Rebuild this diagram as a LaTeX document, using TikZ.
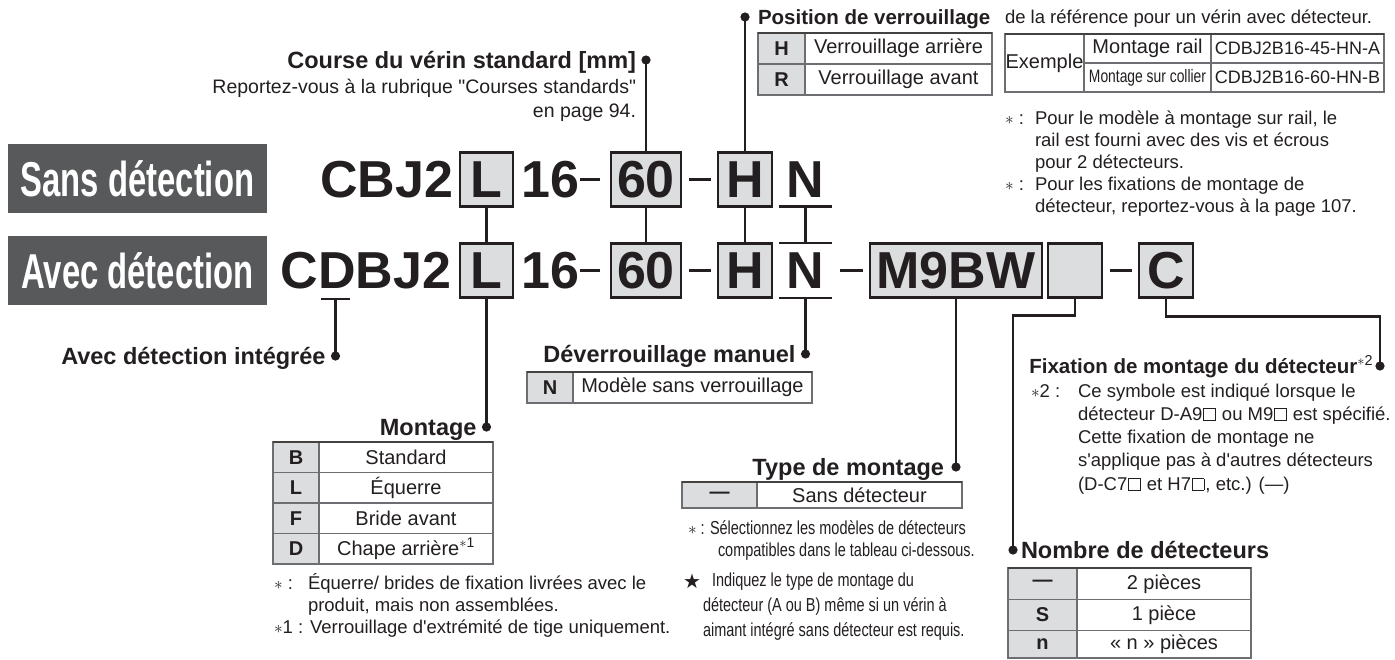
\documentclass[tikz,border=0pt]{standalone}
\usepackage{fontspec}
\setmainfont{Liberation Sans}[Ligatures=TeXOff]
\newfontfamily\condf[FakeStretch=0.67]{Liberation Sans}
\newfontfamily\narrowf[FakeStretch=0.77]{Liberation Sans}
\newfontfamily\symf{DejaVu Sans}
\usetikzlibrary{calc}
\definecolor{labgray}{HTML}{58595B}
\definecolor{cellgray}{HTML}{DCDDDE}
\definecolor{ink}{HTML}{231F20}
\definecolor{rulegray}{HTML}{6D6E71}
\newcommand\fCode{\fontsize{52}{52}\selectfont\bfseries}
\newcommand\fHead{\fontsize{23.5}{28}\selectfont\bfseries}
\newcommand\fHeadS{\fontsize{20.5}{24}\selectfont\bfseries}
\newcommand\fNote{\fontsize{18.5}{22}\selectfont}
\newcommand\fNar{\narrowf\fontsize{18.8}{22}\selectfont}
\newcommand\fTab{\fontsize{20}{22}\selectfont}
\newcommand\fTabS{\fontsize{18}{22}\selectfont}
\newcommand\fTabN{\narrowf\fontsize{18}{22}\selectfont}
\newcommand\asx{\ensuremath{\ast}}
\newcommand\wsq{\kern1pt{\fboxsep=0pt\fboxrule=0.7pt\fbox{\rule{0pt}{11pt}\rule{11pt}{0pt}}}\kern1pt}
\begin{document}
\begin{tikzpicture}[x=1pt,y=-1pt,
  lab/.style={fill=labgray, minimum width=259pt, minimum height=69pt, inner sep=0, outer sep=0, text=white, font=\condf\bfseries\fontsize{49}{49}\selectfont},
  cbox/.style={draw=ink, line width=2.4pt, fill=cellgray, minimum height=54pt, inner sep=0, outer sep=0, font=\fCode, text=ink},
  ctext/.style={inner sep=0, outer sep=0, font=\fCode, text=ink},
  conn/.style={draw=ink, line width=2.2pt},
  dashmark/.style={draw=ink, line width=3pt},
  head/.style={inner sep=0, outer sep=0, font=\fHead, text=ink},
  note/.style={inner sep=0, outer sep=0, font=\fNote, text=ink, anchor=base west},
  narnote/.style={inner sep=0, outer sep=0, font=\fNar, text=ink, anchor=base west},
  tk/.style={draw=rulegray, line width=1.3pt, fill=cellgray, inner sep=0, outer sep=0, anchor=north west, font=\fTab\bfseries, text=ink},
  tv/.style={draw=rulegray, line width=1.3pt, inner sep=0, outer sep=0, anchor=north west, font=\fTab, text=ink},
  toprule/.style={draw=ink!85, line width=2pt}
]
\useasboundingbox (0,0) rectangle (1395,659);
\fill[white] (0,0) rectangle (1395,659);

% label boxes
\node[lab] (sans) at (137.5,178.5) {Sans détection};
\node[lab] (avec) at (137.5,270.5) {Avec détection};

% ---------- row 1
\node[ctext, anchor=east] (c1) at (453,179.5) {CBJ2};
\node[cbox, minimum width=53pt] (l1) at (486.5,179.5) {L};
\node[ctext] (s1) at (550.5,179.5) {16};
\draw[dashmark] (580,179.5) -- (600,179.5);
\node[cbox, minimum width=70pt] (k1) at (646,179.5) {60};
\draw[dashmark] (689,179.5) -- (711,179.5);
\node[cbox, minimum width=54pt] (h1) at (745,179.5) {H};
\node[ctext, minimum width=53pt, minimum height=54pt] (n1) at (805.5,179.5) {N};
\draw[conn] (n1.south west) -- (n1.south east);

% ---------- row 2
\node[ctext, anchor=east] (c2) at (451,270.5) {CDBJ2};
\coordinate (dl) at (321,299);
\coordinate (dr) at (350,299);
\coordinate (dm) at (335.5,299);
\draw[conn] (dl) -- (dr);
\node[cbox, minimum width=53pt] (l2) at (486.5,270.5) {L};
\node[ctext] (s2) at (550.5,270.5) {16};
\draw[dashmark] (580,270.5) -- (600,270.5);
\node[cbox, minimum width=70pt] (k2) at (646,270.5) {60};
\draw[dashmark] (689,270.5) -- (711,270.5);
\node[cbox, minimum width=54pt] (h2) at (745,270.5) {H};
\node[ctext, minimum width=53pt, minimum height=55pt] (n2) at (805.5,270.5) {N};
\draw[conn] (n2.north west) -- (n2.north east);
\draw[conn] (n2.south west) -- (n2.south east);
\draw[dashmark] (840,270.5) -- (863,270.5);
\node[cbox, minimum width=172pt] (m2) at (956,270.5) {M9BW};
\node[cbox, minimum width=54pt] (e2) at (1075,270.5) {};
\draw[dashmark] (1110,270.5) -- (1132,270.5);
\node[cbox, minimum width=54pt] (cc2) at (1166,270.5) {C};

% ---------- dots
\coordinate (dCourse) at (646,60);
\coordinate (dPos) at (745,17);
\coordinate (dAvec) at (335.5,356);
\coordinate (dMont) at (486.5,427);
\coordinate (dDev) at (805.5,354);
\coordinate (dType) at (956,467);
\coordinate (dNomb) at (1013,550);
\coordinate (dFix) at (1380,366);

% ---------- connectors
\draw[conn] (k1.north) -- (dCourse);
\draw[conn] (h1.north) -- (dPos);
\draw[conn] (l1.south) -- (l2.north);
\draw[conn] (k1.south) -- (k2.north);
\draw[conn] (h1.south) -- (h2.north);
\draw[conn] (n1.south) -- (n2.north);
\draw[conn] (dm) -- (dAvec);
\draw[conn] (l2.south) -- (dMont);
\draw[conn] (n2.south) -- (dDev);
\draw[conn] (m2.south) -- (dType);
\draw[conn] (e2.south) -- ++(0,18) -| (dNomb);
\draw[conn] (cc2.south) -- ++(0,19) -| (dFix);
\foreach \d in {dCourse,dPos,dAvec,dMont,dDev,dType,dNomb,dFix}
  \fill[ink] (\d) circle (4.6pt);

% ---------- headings
\node[head, anchor=base east] (hCourse) at ($(dCourse)+(-10,8.5)$) {Course du vérin standard [mm]};
\node[note, anchor=base east, font=\fontsize{19.5}{22}\selectfont] (nCourse1) at (636,93) {Reportez-vous à la rubrique "Courses standards"};
\node[note, anchor=base east, font=\fontsize{19.5}{22}\selectfont] (nCourse2) at (636,117) {en page 94.};
\node[head, anchor=base west, font=\fHeadS] (hPos) at ($(dPos)+(13,7.5)$) {Position de verrouillage};
\node[head, anchor=base east] (hAvec) at ($(dAvec)+(-10,8.5)$) {Avec détection intégrée};
\node[head, anchor=base east] (hMont) at ($(dMont)+(-10,8.5)$) {Montage};
\node[head, anchor=base east] (hDev) at ($(dDev)+(-10,8.5)$) {Déverrouillage manuel};
\node[head, anchor=base east] (hType) at ($(dType)+(-12,8.5)$) {Type de montage};
\node[head, anchor=base west] (hNomb) at ($(dNomb)+(8,8.5)$) {Nombre de détecteurs};
\node[head, anchor=base east, font=\fHeadS] (hFix) at ($(dFix)+(-7,7)$) {Fixation de montage du détecteur\textsuperscript{\mdseries\asx2}};

% ---------- top right text
\node[note] (topr) at (1005,23) {de la référence pour un vérin avec détecteur.};

% ---------- Position de verrouillage table
\node[tk, minimum width=47pt, minimum height=31pt] (pH) at (758,33) {H};
\node[tv, minimum width=187pt, minimum height=31pt] (pHv) at (805,33) {Verrouillage arrière};
\node[tk, minimum width=47pt, minimum height=31pt] (pR) at (758,64) {R};
\node[tv, minimum width=187pt, minimum height=31pt] (pRv) at (805,64) {Verrouillage avant};
\draw[toprule] (pH.north west) -- (pHv.north east);

% ---------- Exemple table
\node[tv, minimum width=79pt, minimum height=58pt] (ex) at (1005,34) {Exemple};
\node[tv, minimum width=127pt, minimum height=29pt] (ex1) at (1084,34) {Montage rail};
\node[tv, minimum width=173pt, minimum height=29pt, font=\fTabS] (ex1c) at (1211,34) {CDBJ2B16-45-HN-A};
\node[tv, minimum width=127pt, minimum height=29pt, font=\fTabN] (ex2) at (1084,63) {Montage sur collier};
\node[tv, minimum width=173pt, minimum height=29pt, font=\fTabS] (ex2c) at (1211,63) {CDBJ2B16-60-HN-B};
\draw[toprule] (ex.north west) -- (ex1c.north east);

% ---------- Exemple notes
\node[note] (en1a) at (1005,124) {\asx{} :};
\node[note] (en1) at (1035,124) {Pour le modèle à montage sur rail, le};
\node[note] (en2) at (1035,146) {rail est fourni avec des vis et écrous};
\node[note] (en3) at (1035,168) {pour 2 détecteurs.};
\node[note] (en4a) at (1005,190) {\asx{} :};
\node[note] (en4) at (1035,190) {Pour les fixations de montage de};
\node[note] (en5) at (1035,212) {détecteur, reportez-vous à la page 107.};

% ---------- Deverrouillage table
\node[tk, minimum width=46pt, minimum height=31pt] (dN) at (527,372) {N};
\node[tv, minimum width=239pt, minimum height=31pt] (dNv) at (573,372) {Modèle sans verrouillage};
\draw[toprule] (dN.north west) -- (dNv.north east);

% ---------- Montage table
\node[tk, minimum width=46pt, minimum height=30.5pt] (mB) at (273,442) {B};
\node[tv, minimum width=174pt, minimum height=30.5pt] (mBv) at (319,442) {Standard};
\node[tk, minimum width=46pt, minimum height=30.5pt] (mL) at (273,472.5) {L};
\node[tv, minimum width=174pt, minimum height=30.5pt] (mLv) at (319,472.5) {Équerre};
\node[tk, minimum width=46pt, minimum height=30.5pt] (mF) at (273,503) {F};
\node[tv, minimum width=174pt, minimum height=30.5pt] (mFv) at (319,503) {Bride avant};
\node[tk, minimum width=46pt, minimum height=30.5pt] (mD) at (273,533.5) {D};
\node[tv, minimum width=174pt, minimum height=30.5pt] (mDv) at (319,533.5) {Chape arrière\textsuperscript{\asx1}};
\draw[toprule] (mB.north west) -- (mBv.north east);

% ---------- Montage notes
\node[note] (mn1a) at (274,589) {\asx{} :};
\node[note] (mn1) at (308,589) {Équerre/ brides de fixation livrées avec le};
\node[note] (mn2) at (308,611) {produit, mais non assemblées.};
\node[note] (mn3) at (274,633) {\asx1 : Verrouillage d'extrémité de tige uniquement.};

% ---------- Type de montage table
\node[tk, minimum width=75pt, minimum height=26pt] (tK) at (682,482) {—};
\node[tv, minimum width=205pt, minimum height=26pt] (tV) at (757,482) {Sans détecteur};
\draw[toprule] (tK.north west) -- (tV.north east);

% ---------- Type notes
\node[narnote] (tn1a) at (688,534.5) {\asx{} :};
\node[narnote] (tn1) at (710,534.5) {Sélectionnez les modèles de détecteurs};
\node[narnote] (tn2) at (718,556.5) {compatibles dans le tableau ci-dessous.};
\node[narnote] (tn3a) at (683,588) {{\symf\fontsize{20}{20}\selectfont ★}};
\node[narnote] (tn3) at (712,586.5) {Indiquez le type de montage du};
\node[narnote] (tn4) at (703,611.5) {détecteur (A ou B) même si un vérin à};
\node[narnote] (tn5) at (703,636.5) {aimant intégré sans détecteur est requis.};

% ---------- Fixation notes
\node[note] (fn1a) at (1031,397) {\asx2 :};
\node[note] (fn1) at (1078,397) {Ce symbole est indiqué lorsque le};
\node[note] (fn2) at (1078,420) {détecteur D-A9\wsq{} ou M9\wsq{} est spécifié.};
\node[note] (fn3) at (1078,443) {Cette fixation de montage ne};
\node[note] (fn4) at (1078,466) {s'applique pas à d'autres détecteurs};
\node[note] (fn5) at (1078,490) {(D-C7\wsq{} et H7\wsq{}, etc.) (—)};

% ---------- Nombre table
\node[tk, minimum width=69pt, minimum height=31.5pt] (nA) at (1008,568) {—};
\node[tv, minimum width=174pt, minimum height=31.5pt] (nAv) at (1077,568) {2 pièces};
\node[tk, minimum width=69pt, minimum height=31pt] (nS) at (1008,599.5) {S};
\node[tv, minimum width=174pt, minimum height=31pt] (nSv) at (1077,599.5) {1 pièce};
\node[tk, minimum width=69pt, minimum height=27.5pt] (nN) at (1008,630.5) {n};
\node[tv, minimum width=174pt, minimum height=27.5pt] (nNv) at (1077,630.5) {« n » pièces};
\draw[toprule] (nA.north west) -- (nAv.north east);
\end{tikzpicture}
\end{document}
